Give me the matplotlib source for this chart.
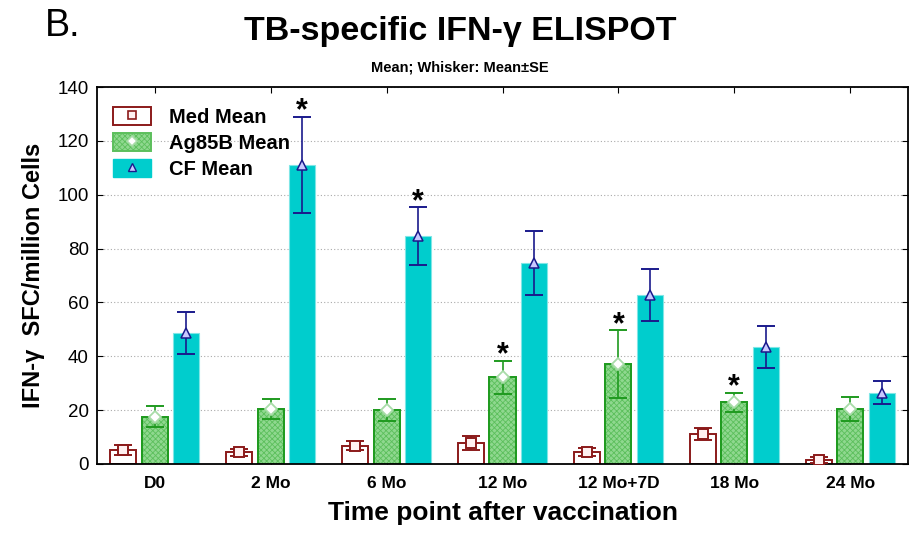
import matplotlib
matplotlib.use("Agg")
import matplotlib.pyplot as plt
import numpy as np
from matplotlib.patches import Patch
from matplotlib.lines import Line2D

plt.rcParams["font.family"] = ["Liberation Sans", "DejaVu Sans"]
plt.rcParams["hatch.linewidth"] = 0.6

# ---------------------------------------------------------------------------
# Data
# ---------------------------------------------------------------------------
time_points = ["D0", "2 Mo", "6 Mo", "12 Mo", "12 Mo+7D", "18 Mo", "24 Mo"]

med_mean = [5.2, 4.3, 6.8, 7.7, 4.3, 11.1, 1.4]
med_se = [2.0, 1.2, 1.7, 2.6, 1.5, 2.1, 1.2]

ag85b_mean = [17.6, 20.4, 20.0, 32.2, 37.1, 22.9, 20.4]
ag85b_se = [3.8, 3.7, 4.2, 6.2, 12.5, 3.5, 4.6]

cf_mean = [48.6, 111.0, 84.7, 74.6, 62.8, 43.4, 26.5]
cf_se = [7.8, 17.9, 10.7, 12.0, 9.8, 7.7, 4.4]

# significance stars: (time index, series)
stars = [(1, "cf"), (2, "cf"), (3, "ag"), (4, "ag"), (5, "ag")]

MED_EDGE = "#8b1a1a"
AG_FACE = "#8fd88f"
AG_EDGE = "#1f9a1f"
CF_FACE = "#00cdcd"
CF_ERR = "#1a1a8c"


def main():
    fig = plt.figure(figsize=(9.2, 5.48), dpi=100)
    ax = fig.add_axes([0.1054, 0.1533, 0.8816, 0.6879])

    x = np.arange(len(time_points))
    width = 0.225
    off = 0.272

    ax.bar(x - off, med_mean, width, facecolor="white", edgecolor=MED_EDGE,
           linewidth=1.4, zorder=2)
    ax.bar(x, ag85b_mean, width, facecolor=AG_FACE, edgecolor="#5cbf5c",
           linewidth=1.4, hatch="xxxxxx", zorder=2)
    # outline drawn separately so the hatch can stay lighter
    ax.bar(x, ag85b_mean, width, facecolor="none", edgecolor=AG_EDGE,
           linewidth=1.4, zorder=2.1)
    ax.bar(x + off, cf_mean, width, facecolor=CF_FACE, edgecolor="#7fe6e6",
           linewidth=0.8, zorder=2)

    ax.errorbar(x - off, med_mean, yerr=med_se, fmt="none", ecolor=MED_EDGE,
                elinewidth=1.2, capsize=6.5, capthick=1.4, zorder=3)
    ax.errorbar(x, ag85b_mean, yerr=ag85b_se, fmt="none", ecolor=AG_EDGE,
                elinewidth=1.2, capsize=6.5, capthick=1.4, zorder=3)
    ax.errorbar(x + off, cf_mean, yerr=cf_se, fmt="none", ecolor=CF_ERR,
                elinewidth=1.2, capsize=6.5, capthick=1.4, zorder=3)

    ax.plot(x - off, med_mean, "s", ms=7.5, mfc="#fff0f0", mec=MED_EDGE,
            mew=1.4, zorder=4)
    ax.plot(x, ag85b_mean, "D", ms=6.5, mfc="white", mec="#a8dca8",
            mew=1.3, zorder=4)
    ax.plot(x + off, cf_mean, "^", ms=7, mfc="#c8c8ff", mec=CF_ERR,
            mew=1.1, zorder=4)

    for i, s in stars:
        if s == "cf":
            xs, top = x[i] + off, cf_mean[i] + cf_se[i]
        else:
            xs, top = x[i], ag85b_mean[i] + ag85b_se[i]
        ax.text(xs, top - 1.0, "*", ha="center", va="baseline",
                fontsize=22, fontweight="bold", zorder=5)

    ax.set_xlim(-0.5, len(time_points) - 0.5)
    ax.set_ylim(0, 140)
    ax.set_yticks(np.arange(0, 141, 20))
    ax.set_xticks(x)
    ax.set_xticklabels(time_points, fontsize=12.5, fontweight="bold")
    ax.tick_params(axis="y", labelsize=13.5, direction="in", length=4,
                   right=True, pad=6)
    ax.tick_params(axis="x", direction="in", length=4, top=True, pad=9)
    for sp in ax.spines.values():
        sp.set_linewidth(1.3)

    ax.grid(axis="y", linestyle=(0, (1, 2)), color="#aaaaaa", linewidth=0.8,
            zorder=0)
    ax.set_axisbelow(True)

    ax.set_ylabel("IFN-\u03b3  SFC/million Cells", fontsize=17,
                  fontweight="bold", labelpad=9)
    ax.set_xlabel("Time point after vaccination", fontsize=19,
                  fontweight="bold", labelpad=7)

    handles = [
        (Patch(facecolor="white", edgecolor=MED_EDGE, linewidth=1.4),
         Line2D([], [], marker="s", ls="none", ms=6, mfc="#fff0f0",
                mec=MED_EDGE, mew=1.2)),
        (Patch(facecolor=AG_FACE, edgecolor="#5cbf5c", hatch="xxxxxx",
               linewidth=1.4),
         Line2D([], [], marker="D", ls="none", ms=5.5, mfc="white",
                mec="#a8dca8", mew=1.2)),
        (Patch(facecolor=CF_FACE, edgecolor=CF_FACE),
         Line2D([], [], marker="^", ls="none", ms=6, mfc="#c8c8ff",
                mec=CF_ERR, mew=1.0)),
    ]
    ax.legend(handles, ["Med Mean", "Ag85B Mean", "CF Mean"],
              loc="upper left", frameon=False,
              prop={"weight": "bold", "size": 14.5},
              handlelength=1.9, handleheight=1.0, labelspacing=0.3,
              handletextpad=0.9, borderaxespad=0.4,
              bbox_to_anchor=(0.0, 0.99))

    fig.text(0.5, 0.943, "TB-specific IFN-\u03b3 ELISPOT", ha="center",
             va="center", fontsize=24.5, fontweight="bold")
    fig.text(0.5, 0.876, "Mean; Whisker: Mean\u00b1SE", ha="center",
             va="center", fontsize=10.5, fontweight="bold")
    fig.text(0.049, 0.952, "B.", ha="left", va="center", fontsize=27)

    fig.savefig("out.png", dpi=100)
    plt.close(fig)


if __name__ == "__main__":
    main()
